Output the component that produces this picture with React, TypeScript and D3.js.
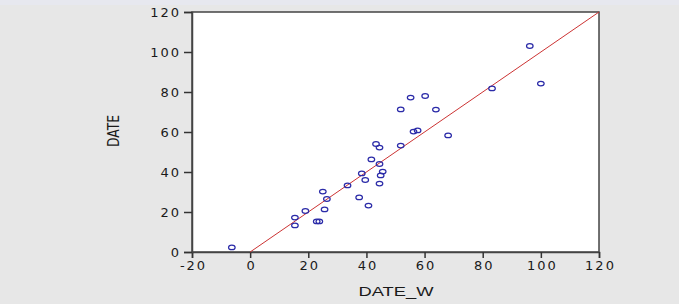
import React, { useEffect, useRef } from "react";
import { select, scaleLinear, axisBottom, axisLeft, line } from "d3";

// scatter values
const dateW: number[] = [
  -6.3, 15.4, 15.4, 19.0, 22.9, 23.8, 25.0, 26.4, 25.6, 33.5, 37.5, 40.7, 38.4,
  39.6, 41.7, 43.3, 44.5, 44.5, 45.6, 44.9, 44.5, 51.8, 51.8, 55.2, 60.2, 63.9,
  56.2, 57.6, 68.1, 83.2, 96.2, 100.0,
];
const date: number[] = [
  2.3, 17.2, 13.3, 20.5, 15.3, 15.3, 30.2, 26.5, 21.3, 33.3, 27.3, 23.2, 39.3,
  36.0, 46.3, 54.0, 52.2, 44.0, 40.2, 38.3, 34.2, 71.3, 53.2, 77.2, 78.0, 71.2,
  60.2, 60.8, 58.3, 81.8, 103.0, 84.2,
];
const fitLine: [number, number][] = [
  [0, 0],
  [120, 120],
];
const xTicks: number[] = [-20, 0, 20, 40, 60, 80, 100, 120];
const yTicks: number[] = [0, 20, 40, 60, 80, 100, 120];

const WIDTH = 679;
const HEIGHT = 304;
const plot = { left: 192, right: 599, top: 12, bottom: 252 };

const App: React.FC = () => {
  const svgRef = useRef<SVGSVGElement>(null);

  useEffect(() => {
    const svg = select(svgRef.current);
    svg.selectAll("*").remove();

    const x = scaleLinear().domain([-20, 120]).range([plot.left, plot.right]);
    const y = scaleLinear().domain([0, 120]).range([plot.bottom, plot.top]);

    svg.append("rect").attr("width", WIDTH).attr("height", HEIGHT).attr("fill", "#e7e7e7");
    svg.append("rect").attr("width", WIDTH).attr("height", 5).attr("fill", "#e7e8ef");

    svg
      .append("rect")
      .attr("x", plot.left)
      .attr("y", plot.top)
      .attr("width", plot.right - plot.left)
      .attr("height", plot.bottom - plot.top)
      .attr("fill", "#ffffff")
      .attr("stroke", "#444444")
      .attr("stroke-width", 1.5);

    const xAxis = svg
      .append("g")
      .attr("transform", `translate(0,${plot.bottom})`)
      .call(axisBottom(x).tickValues(xTicks).tickSize(6).tickPadding(2).tickFormat((d) => `${d}`));
    const yAxis = svg
      .append("g")
      .attr("transform", `translate(${plot.left},0)`)
      .call(axisLeft(y).tickValues(yTicks).tickSize(8).tickPadding(3).tickFormat((d) => `${d}`));

    [xAxis, yAxis].forEach((g) => {
      g.attr("font-size", 13).attr("font-family", "DejaVu Sans, sans-serif");
      g.select(".domain").attr("stroke", "#444444").attr("stroke-width", 1.5);
      g.selectAll(".tick line").attr("stroke", "#333333").attr("stroke-width", 1.5);
      g.selectAll(".tick text")
        .attr("fill", "#1a1a1a")
        .attr("font-size", 13)
        .style("font-size", "13px")
        .style("letter-spacing", "2px");
    });
    yAxis.selectAll(".tick text").attr("dy", "0.36em");
    xAxis.selectAll(".tick text").attr("dx", "1px").attr("dy", "0.8em");

    svg
      .append("path")
      .datum(fitLine)
      .attr("d", line<[number, number]>().x((d) => x(d[0])).y((d) => y(d[1])))
      .attr("fill", "none")
      .attr("stroke", "#cc3333")
      .attr("stroke-width", 1);

    svg
      .selectAll(".pt")
      .data(dateW.map((v, i) => [v, date[i]]))
      .join("ellipse")
      .attr("class", "pt")
      .attr("cx", (d) => x(d[0]))
      .attr("cy", (d) => y(d[1]))
      .attr("rx", 3.3)
      .attr("ry", 2.3)
      .attr("fill", "none")
      .attr("stroke", "#2b2ba8")
      .attr("stroke-width", 1.2);

    svg
      .append("text")
      .attr("x", 396)
      .attr("y", 296)
      .attr("text-anchor", "middle")
      .attr("textLength", 75)
      .attr("lengthAdjust", "spacingAndGlyphs")
      .style("font-family", "'Liberation Sans', Arial, sans-serif")
      .style("font-size", "13px")
      .attr("fill", "#1a1a1a")
      .text("DATE_W");

    svg
      .append("text")
      .attr("transform", "translate(119,131) rotate(-90)")
      .attr("text-anchor", "middle")
      .attr("textLength", 32)
      .attr("lengthAdjust", "spacingAndGlyphs")
      .style("font-family", "'DejaVu Sans Condensed', 'Liberation Sans Narrow', sans-serif")
      .style("font-size", "15px")
      .attr("fill", "#1a1a1a")
      .text("DATE");
  }, []);

  return (
    <svg
      ref={svgRef}
      width={WIDTH}
      height={HEIGHT}
      style={{ position: "absolute", left: 0, top: 0 }}
    />
  );
};

export default App;
